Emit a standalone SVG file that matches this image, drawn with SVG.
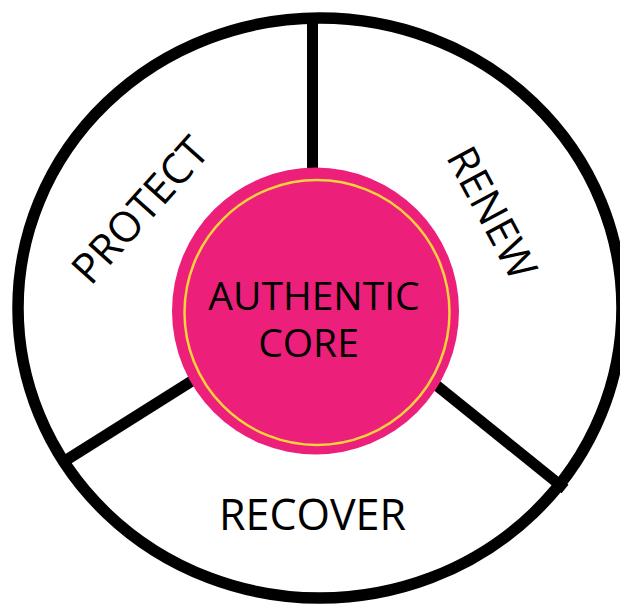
<svg xmlns="http://www.w3.org/2000/svg" width="620" height="608" viewBox="0 0 620 608">
  <style>
    .ring { fill: #ffffff; stroke: #000000; stroke-width: 11.5; }
    .div { stroke: #000000; stroke-width: 11; stroke-linecap: butt; fill: none; }
    .lbl { font-family: "Open Sans", "Noto Sans", "Liberation Sans", sans-serif; fill: #000000; text-anchor: middle; }
    .seg { font-size: 42px; }
    .core { font-size: 39px; }
  </style>
  <rect width="620" height="608" fill="#ffffff"/>
  <g id="outer-ring">
    <ellipse class="ring" cx="320" cy="308" rx="302" ry="290"/>
  </g>
  <g id="connectors">
    <line class="div" x1="312.5" y1="20" x2="312.5" y2="200"/>
    <line class="div" x1="60" y1="464" x2="230" y2="357"/>
    <line class="div" x1="565" y1="489" x2="410" y2="364"/>
  </g>
  <g id="core">
    <circle cx="315.5" cy="311" r="143.5" fill="#ec1f7b"/>
    <circle cx="317" cy="312.5" r="132.5" fill="none" stroke="#f6d23c" stroke-width="2.5"/>
    <text class="lbl core" x="314" y="310">AUTHENTIC</text>
    <text class="lbl core" x="308.5" y="357">CORE</text>
  </g>
  <g id="protect">
    <text class="lbl seg" x="151" y="220" transform="rotate(-48 151 220)">PROTECT</text>
  </g>
  <g id="renew">
    <text class="lbl seg" x="479" y="220" transform="rotate(62 479 220)">RENEW</text>
  </g>
  <g id="recover">
    <text class="lbl seg" x="312.5" y="530" style="font-size:43px">RECOVER</text>
  </g>
</svg>
